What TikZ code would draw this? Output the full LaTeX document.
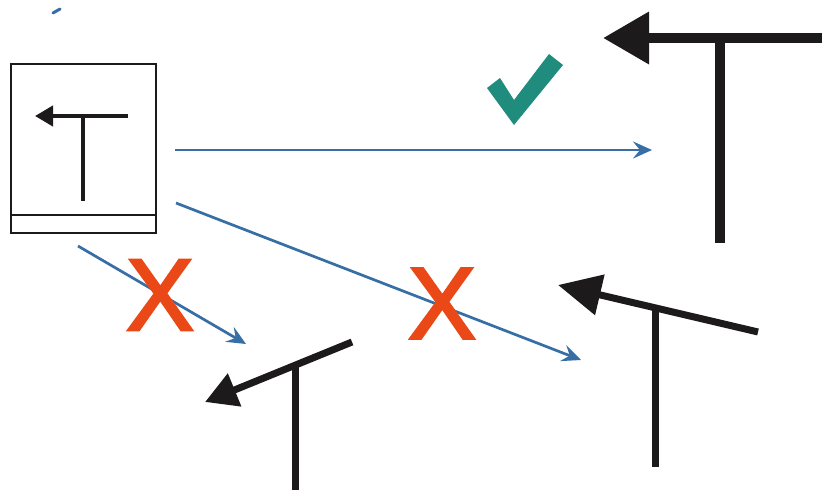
\documentclass[tikz,border=0pt]{standalone}
\usepackage{fontspec}
\setmainfont{Liberation Sans}
\newfontfamily\crossfont[FakeBold=2.5]{Liberation Sans}
\usetikzlibrary{arrows.meta}
\definecolor{sigblue}{RGB}{55,110,165}
\definecolor{sigblack}{RGB}{28,26,26}
\definecolor{sigred}{RGB}{234,72,22}
\definecolor{sigteal}{RGB}{32,140,126}
\begin{document}
\begin{tikzpicture}[x=1pt,y=-1pt,
  bluearrow/.style={draw=sigblue,line width=2.7pt,-{Stealth[length=19pt,width=17pt,inset=7pt]}},
  tbar/.style={draw=sigblack,line cap=butt},
  crossmark/.style={text=sigred,font=\crossfont\fontsize{102}{102}\selectfont,inner sep=0pt}]
\useasboundingbox (0,0) rectangle (822,490);
\fill[white] (0,0) rectangle (822,490);
% small blue fragment at top
\draw[sigblue,line width=3pt,line cap=round] (53,13) -- (60,9);
% sign box
\node[draw=sigblack,line width=1.5pt,minimum width=145pt,minimum height=169pt,inner sep=0pt] (box) at (83.5,148.5) {};
\draw[sigblack,line width=1.5pt] (11,215) -- (156,215);
% small T in box
\coordinate (s1) at (128,116);
\coordinate (s2) at (35,116);
\draw[tbar,line width=4pt,-{Triangle[length=18pt,width=20pt]}] (s1) -- (s2);
\draw[tbar,line width=4pt] (83,116) -- (83,201);
% big T top right
\coordinate (b1) at (822,38);
\coordinate (b2) at (603,38);
\draw[tbar,line width=10pt,-{Triangle[length=46pt,width=50pt]}] (b1) -- (b2);
\draw[tbar,line width=10pt] (720,38) -- (720,243);
% bottom left tilted T
\coordinate (l1) at (352,342);
\coordinate (l2) at (205,402);
\draw[tbar,line width=7pt,-{Triangle[length=32pt,width=34pt]}] (l1) -- (l2);
\draw[tbar,line width=7pt] (295,366) -- (295,490);
% bottom right tilted T
\coordinate (r1) at (758,332);
\coordinate (r2) at (558,285);
\draw[tbar,line width=7pt,-{Triangle[length=43pt,width=40pt]}] (r1) -- (r2);
\draw[tbar,line width=7pt] (655,308) -- (655,467);
% blue arrows
\coordinate (a1s) at (175,150);
\coordinate (a1e) at (652,150);
\coordinate (a2s) at (78,246);
\coordinate (a2e) at (246,344);
\coordinate (a3s) at (176,203);
\coordinate (a3e) at (581,360);
\draw[bluearrow] (a1s) -- (a1e);
\draw[bluearrow] (a2s) -- (a2e);
\draw[bluearrow] (a3s) -- (a3e);
% check mark
\fill[sigteal] (487,88) -- (500,78) -- (514,100) -- (549,54) -- (563,65) -- (514,125) -- cycle;
% red crosses
\node[crossmark] (x1) at (160,295) {X};
\node[crossmark] (x2) at (442,303.5) {X};
\end{tikzpicture}
\end{document}
